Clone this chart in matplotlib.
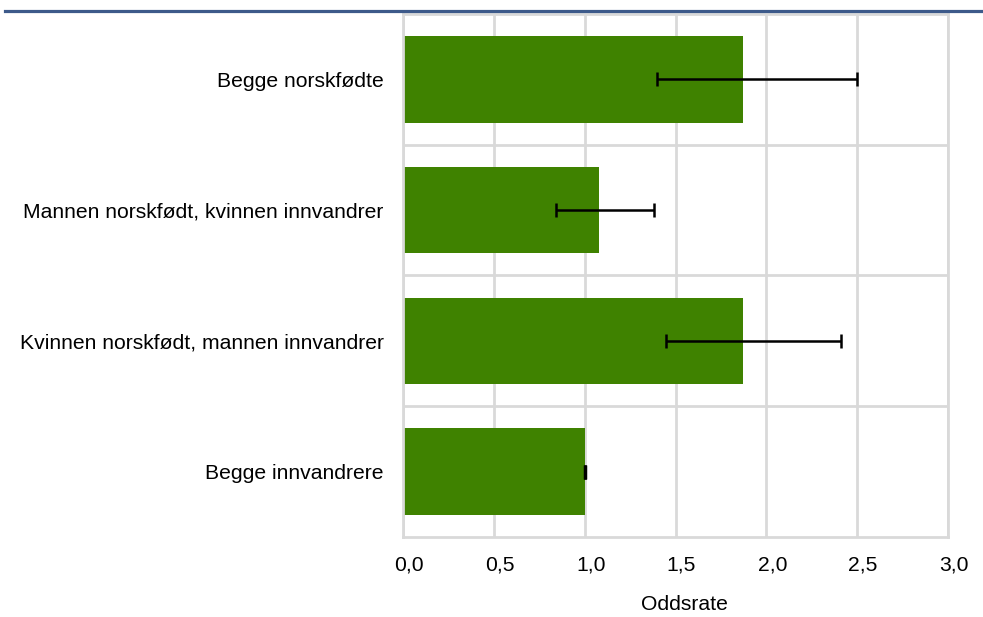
import matplotlib
matplotlib.use("Agg")
import matplotlib.pyplot as plt
import matplotlib.transforms as mtransforms
import numpy as np

plt.rcParams["font.family"] = ["Liberation Sans", "DejaVu Sans"]

categories = [
    "Begge norskfødte",
    "Mannen norskfødt, kvinnen innvandrer",
    "Kvinnen norskfødt, mannen innvandrer",
    "Begge innvandrere",
]
odds = [1.87, 1.08, 1.87, 1.00]
ci_low = [1.40, 0.84, 1.45, 1.00]
ci_high = [2.50, 1.38, 2.41, 1.00]
xticks = [0.0, 0.5, 1.0, 1.5, 2.0, 2.5, 3.0]

grid_c = "#d9d9d9"
bar_c = "#3f8200"
fs = 15.2

fig = plt.figure(figsize=(9.83, 6.17), dpi=100)
ax = fig.add_axes([0.41, 0.1297, 0.5544, 0.8476])

y = np.arange(len(categories))
ax.barh(y, odds, height=0.66, color=bar_c, zorder=2)
err = [np.array(odds) - np.array(ci_low), np.array(ci_high) - np.array(odds)]
ax.errorbar(odds, y, xerr=err, fmt="none", ecolor="black", elinewidth=1.8,
            capsize=5, capthick=1.8, zorder=3)
# the last one has no interval, only a small mark
ax.plot([odds[-1]], [y[-1]], marker="|", color="black", markersize=10,
        markeredgewidth=2.5, zorder=3)

ax.set_xlim(0, 3.0)
ax.set_ylim(len(categories) - 0.5, -0.5)
ax.set_xticks(xticks, [f"{t:.1f}".replace(".", ",") for t in xticks], fontsize=fs)
ax.set_yticks(y, categories, fontsize=fs)
ax.set_yticks(np.arange(len(categories) - 1) + 0.5, minor=True)
ax.tick_params(axis="both", which="both", length=0)
ax.tick_params(axis="x", pad=13)
ax.tick_params(axis="y", pad=14)
# labels sit a little right of their gridlines in the original
shift = mtransforms.ScaledTranslation(6 / 100, 0, fig.dpi_scale_trans)
for lab in ax.get_xticklabels():
    lab.set_transform(lab.get_transform() + shift)
ax.grid(axis="x", which="major", color=grid_c, lw=2, zorder=0)
ax.grid(axis="y", which="minor", color=grid_c, lw=2, zorder=0)
for s in ax.spines.values():
    s.set_color(grid_c)
    s.set_linewidth(2)
ax.set_xlabel("Oddsrate", fontsize=fs)
ax.xaxis.set_label_coords(0.517, -0.111)

# blue rule at the top of the figure
fig.add_artist(plt.Line2D([0.005, 1.0], [0.9814, 0.9814], color="#3d5a8a",
                          lw=2.3, transform=fig.transFigure))

fig.savefig("out.png", dpi=100)
